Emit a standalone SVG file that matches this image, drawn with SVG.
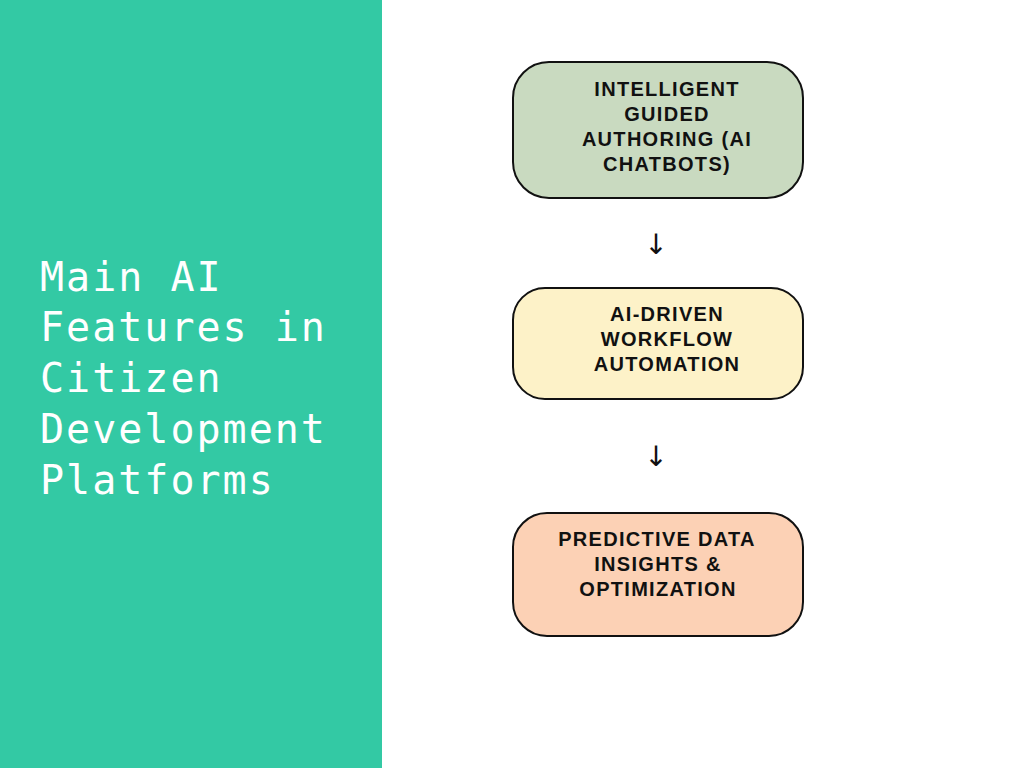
<svg xmlns="http://www.w3.org/2000/svg" width="1024" height="768" viewBox="0 0 1024 768">
<style>
.title{font-family:"DejaVu Sans Mono","Liberation Mono",monospace;font-size:40px;fill:#ffffff;letter-spacing:2px}
.box{stroke:#111111;stroke-width:2}
.lbl{font-family:"Liberation Sans",Arial,sans-serif;font-weight:bold;font-size:20px;fill:#111111;text-anchor:middle;letter-spacing:1.3px}
.arr{font-family:"DejaVu Sans",sans-serif;font-size:28px;fill:#111111;text-anchor:middle}
</style>
<rect x="0" y="0" width="1024" height="768" fill="#ffffff"/>
<rect x="0" y="0" width="382" height="768" fill="#33C9A4"/>
<g id="title">
<text class="title" x="40" y="291">Main AI</text>
<text class="title" x="40" y="341">Features in</text>
<text class="title" x="40" y="392">Citizen</text>
<text class="title" x="40" y="443">Development</text>
<text class="title" x="40" y="494">Platforms</text>
</g>
<g id="node1">
<rect class="box" x="513" y="62" width="290" height="136" rx="36" fill="#C9DAC0"/>
<text class="lbl" x="667" y="96">INTELLIGENT</text>
<text class="lbl" x="667" y="121">GUIDED</text>
<text class="lbl" x="667" y="146">AUTHORING (AI</text>
<text class="lbl" x="667" y="171">CHATBOTS)</text>
</g>
<g id="node2">
<rect class="box" x="513" y="288" width="290" height="111" rx="32" fill="#FDF2C8"/>
<text class="lbl" x="667" y="321">AI-DRIVEN</text>
<text class="lbl" x="667" y="346">WORKFLOW</text>
<text class="lbl" x="667" y="371">AUTOMATION</text>
</g>
<g id="node3">
<rect class="box" x="513" y="513" width="290" height="123" rx="34" fill="#FCD1B5"/>
<text class="lbl" x="657" y="546">PREDICTIVE DATA</text>
<text class="lbl" x="658" y="571">INSIGHTS &amp;</text>
<text class="lbl" x="658" y="596">OPTIMIZATION</text>
</g>
<g id="connectors">
<text class="arr" x="656" y="254">↓</text>
<text class="arr" x="656" y="466">↓</text>
</g>
</svg>
